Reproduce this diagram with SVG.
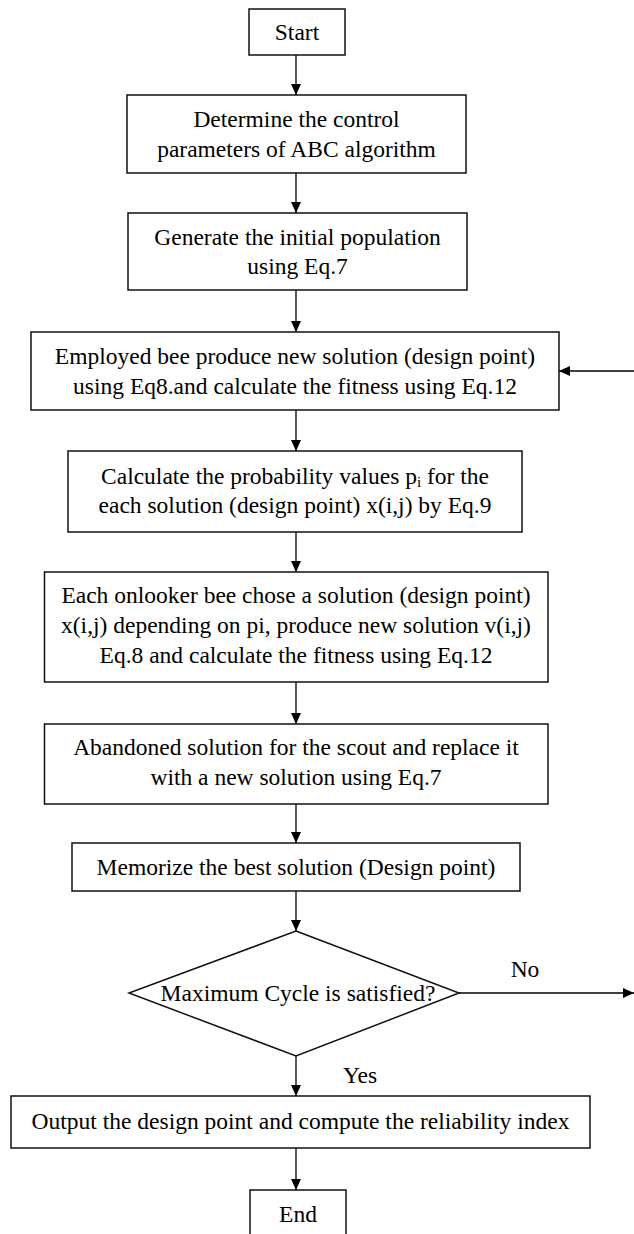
<svg xmlns="http://www.w3.org/2000/svg" width="634" height="1234" viewBox="0 0 634 1234">
<defs>
<marker id="ah" markerUnits="userSpaceOnUse" markerWidth="12" markerHeight="11" refX="11" refY="5" orient="auto">
<path d="M0,0 L11,5 L0,10 z" fill="#000"/>
</marker>
<style>
.box{fill:#fff;stroke:#111;stroke-width:1.5}
.t{font-size:23.5px;fill:#000;text-anchor:middle}
.c{stroke:#000;stroke-width:1.3;fill:none;marker-end:url(#ah)}
</style>
</defs>
<rect width="634" height="1234" fill="#fff"/>
<g font-family="Liberation Serif, Times New Roman, serif">
<g id="connectors">
<line class="c" x1="296" y1="55" x2="296" y2="95"/>
<line class="c" x1="296" y1="173" x2="296" y2="213"/>
<line class="c" x1="296" y1="290" x2="296" y2="332"/>
<line class="c" x1="634" y1="371" x2="559" y2="371"/>
<line class="c" x1="296" y1="410" x2="296" y2="451"/>
<line class="c" x1="296" y1="532" x2="296" y2="572"/>
<line class="c" x1="296" y1="682" x2="296" y2="724"/>
<line class="c" x1="296" y1="804" x2="296" y2="843"/>
<line class="c" x1="296" y1="891" x2="296" y2="931"/>
<line class="c" x1="459" y1="993" x2="634" y2="993"/>
<line class="c" x1="296" y1="1056" x2="296" y2="1096"/>
<line class="c" x1="296" y1="1148" x2="296" y2="1190"/>
<text class="t" x="525" y="977">No</text>
<text class="t" x="360" y="1083">Yes</text>
</g>
<g id="start">
<rect class="box" x="249" y="9" width="96" height="46"/>
<text class="t" x="297" y="40">Start</text>
</g>
<g id="params">
<rect class="box" x="127" y="95" width="339" height="78"/>
<text class="t" x="296.5" y="127">Determine the control</text>
<text class="t" x="296.5" y="157">parameters of ABC algorithm</text>
</g>
<g id="init">
<rect class="box" x="128" y="213" width="339" height="77"/>
<text class="t" x="297.5" y="245">Generate the initial population</text>
<text class="t" x="297.5" y="274">using Eq.7</text>
</g>
<g id="employed">
<rect class="box" x="31" y="332" width="528" height="78"/>
<text class="t" x="295" y="364">Employed bee produce new solution (design point)</text>
<text class="t" x="295" y="394">using Eq8.and calculate the fitness using Eq.12</text>
</g>
<g id="prob">
<rect class="box" x="68" y="451" width="454" height="81"/>
<text class="t" x="295" y="484">Calculate the probability values p<tspan font-size="15" dy="3">i</tspan><tspan dy="-3"> for the</tspan></text>
<text class="t" x="295" y="513">each solution (design point) x(i,j) by Eq.9</text>
</g>
<g id="onlooker">
<rect class="box" x="44.5" y="572" width="503.5" height="110"/>
<text class="t" x="296" y="603">Each onlooker bee chose a solution (design point)</text>
<text class="t" x="296" y="633">x(i,j) depending on pi, produce new solution v(i,j)</text>
<text class="t" x="296" y="663">Eq.8 and calculate the fitness using Eq.12</text>
</g>
<g id="scout">
<rect class="box" x="44.5" y="724" width="503.5" height="80"/>
<text class="t" x="296" y="755">Abandoned solution for the scout and replace it</text>
<text class="t" x="296" y="785">with a new solution using Eq.7</text>
</g>
<g id="memorize">
<rect class="box" x="72" y="843" width="448" height="48"/>
<text class="t" x="296" y="875">Memorize the best solution (Design point)</text>
</g>
<g id="decision">
<polygon class="box" points="296,931 459,993 296,1056 129,993"/>
<text class="t" x="298" y="1001">Maximum Cycle is satisfied?</text>
</g>
<g id="output">
<rect class="box" x="11" y="1096" width="579" height="52"/>
<text class="t" x="300.5" y="1129">Output the design point and compute the reliability index</text>
</g>
<g id="end">
<rect class="box" x="250" y="1190" width="96" height="60"/>
<text class="t" x="298" y="1222">End</text>
</g>
</g>
</svg>
